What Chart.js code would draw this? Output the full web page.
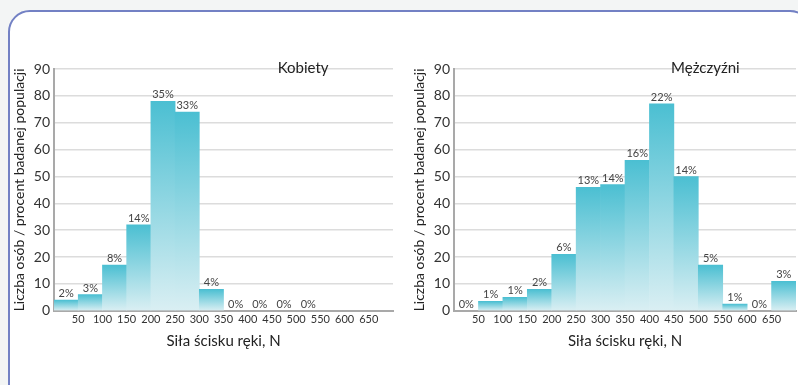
<!DOCTYPE html>
<html>
<head>
<meta charset="utf-8">
<script src="https://cdn.jsdelivr.net/npm/chart.js@4"></script>
<style>
    body { margin: 0; width: 798px; height: 385px; overflow: hidden; background: #f3f5f5; position: relative; font-family: Lato, sans-serif; }
    .frame { position: absolute; left: 8px; top: 10px; width: 800px; height: 400px; border: 2px solid #7381c4; border-radius: 22px; background: #fff; }
    .box { position: absolute; top: 0; height: 385px; }
    #boxK { left: 0; width: 400px; }
    #boxM { left: 400px; width: 398px; }
</style>
</head>
<body>
<div class="frame"></div>
<div class="box" id="boxK"><canvas id="kobietyChart"></canvas></div>
<div class="box" id="boxM"><canvas id="mezczyzniChart"></canvas></div>
<script>
// przedziały siły ścisku (początek przedziału, szerokość 50 N)
const binStarts = [0, 50, 100, 150, 200, 250, 300, 350, 400, 450, 500, 550, 600, 650];
const binWidth = 50;

const kobietyValues = [4, 6, 17, 32, 78, 74, 8, 0, 0, 0, 0, 0, 0, 0];
const kobietyPct = ['2%', '3%', '8%', '14%', '35%', '33%', '4%', '0%', '0%', '0%', '0%', '', '', ''];

const mezczyzniValues = [0, 3.5, 5, 8, 21, 46, 47, 56, 77, 50, 17, 2.5, 0, 11];
const mezczyzniPct = ['0%', '1%', '1%', '2%', '6%', '13%', '14%', '16%', '22%', '14%', '5%', '1%', '0%', '3%'];

const yTicksMax = 90;
const yTickStep = 10;

const yTitle = 'Liczba osób / procent badanej populacji';
const xTitle = 'Siła ścisku ręki, N';

// gradient dla każdego słupka osobno: od góry słupka do osi
function barGradient(ctx) {
    const chart = ctx.chart;
    const top = '#4bbfd2';
    if (ctx.type !== 'data' || !chart.chartArea) return top;
    if (!ctx.raw.y) return 'rgba(0,0,0,0)';
    const y = chart.scales.y;
    const y0 = y.getPixelForValue(0);
    const y1 = y.getPixelForValue(ctx.raw.y);
    const g = chart.ctx.createLinearGradient(0, y1, 0, y0);
    g.addColorStop(0, '#4bbfd2');
    g.addColorStop(1, '#daeff3');
    return g;
}

const pctLabelsPlugin = {
    id: 'pctLabels',
    afterDatasetsDraw(chart, args, opts) {
        const c = chart.ctx;
        const meta = chart.getDatasetMeta(0);
        c.save();
        c.font = '11px Lato, sans-serif';
        c.fillStyle = '#444';
        c.textAlign = 'center';
        c.textBaseline = 'bottom';
        meta.data.forEach(function(el, i) {
            const t = opts.labels[i];
            if (t) c.fillText(t, el.x, el.y - 1);
        });
        c.restore();
    }
};

const panelTitlePlugin = {
    id: 'panelTitle',
    afterDraw(chart, args, opts) {
        const a = chart.chartArea;
        const c = chart.ctx;
        c.save();
        c.font = '15px Lato, sans-serif';
        c.fillStyle = '#222';
        c.textAlign = 'center';
        c.textBaseline = 'middle';
        c.fillText(opts.text, a.left + a.width * 0.735, a.top - 1);
        c.restore();
    }
};

function histogram(id, title, values, pct, padRight) {
    const ctx = document.getElementById(id).getContext('2d');
    new Chart(ctx, {
        type: 'bar',
        data: {
            datasets: [{
                data: binStarts.map(function(b, i) { return { x: b + binWidth / 2, y: values[i] }; }),
                backgroundColor: barGradient,
                borderWidth: 0,
                barPercentage: 1,
                categoryPercentage: 1
            }]
        },
        plugins: [pctLabelsPlugin, panelTitlePlugin],
        options: {
            responsive: true,
            maintainAspectRatio: false,
            animation: false,
            layout: {
                padding: { left: 11, right: padRight, top: 69, bottom: 35 }
            },
            plugins: {
                legend: { display: false },
                tooltip: { enabled: false },
                pctLabels: { labels: pct },
                panelTitle: { text: title }
            },
            scales: {
                x: {
                    type: 'linear',
                    offset: false,
                    min: 0,
                    max: binStarts[binStarts.length - 1] + binWidth,
                    grid: { display: false, drawTicks: false, tickLength: 0 },
                    border: { color: '#a9a9a9', width: 2 },
                    ticks: {
                        stepSize: binWidth,
                        autoSkip: false,
                        maxRotation: 0,
                        padding: 2,
                        color: '#333',
                        font: { family: 'Lato', size: 11 },
                        callback: function(v) {
                            return (v === 0 || v === binStarts[binStarts.length - 1] + binWidth) ? '' : v;
                        }
                    },
                    title: {
                        display: true,
                        text: xTitle,
                        color: '#222',
                        font: { family: 'Lato', size: 15 },
                        padding: { top: 4, bottom: 0 }
                    }
                },
                y: {
                    min: 0,
                    max: yTicksMax,
                    grid: { color: '#dcdcdc', drawTicks: false, lineWidth: 1.5 },
                    border: { color: '#a9a9a9', width: 2 },
                    ticks: {
                        stepSize: yTickStep,
                        padding: 4,
                        color: '#333',
                        font: { family: 'Lato', size: 14 }
                    },
                    title: {
                        display: true,
                        text: yTitle,
                        color: '#222',
                        font: { family: 'Lato', size: 14 },
                        padding: { top: 0, bottom: 2 }
                    }
                }
            }
        }
    });
}

histogram('kobietyChart', 'Kobiety', kobietyValues, kobietyPct, 7);
histogram('mezczyzniChart', 'Mężczyźni', mezczyzniValues, mezczyzniPct, 0);
</script>
</body>
</html>
